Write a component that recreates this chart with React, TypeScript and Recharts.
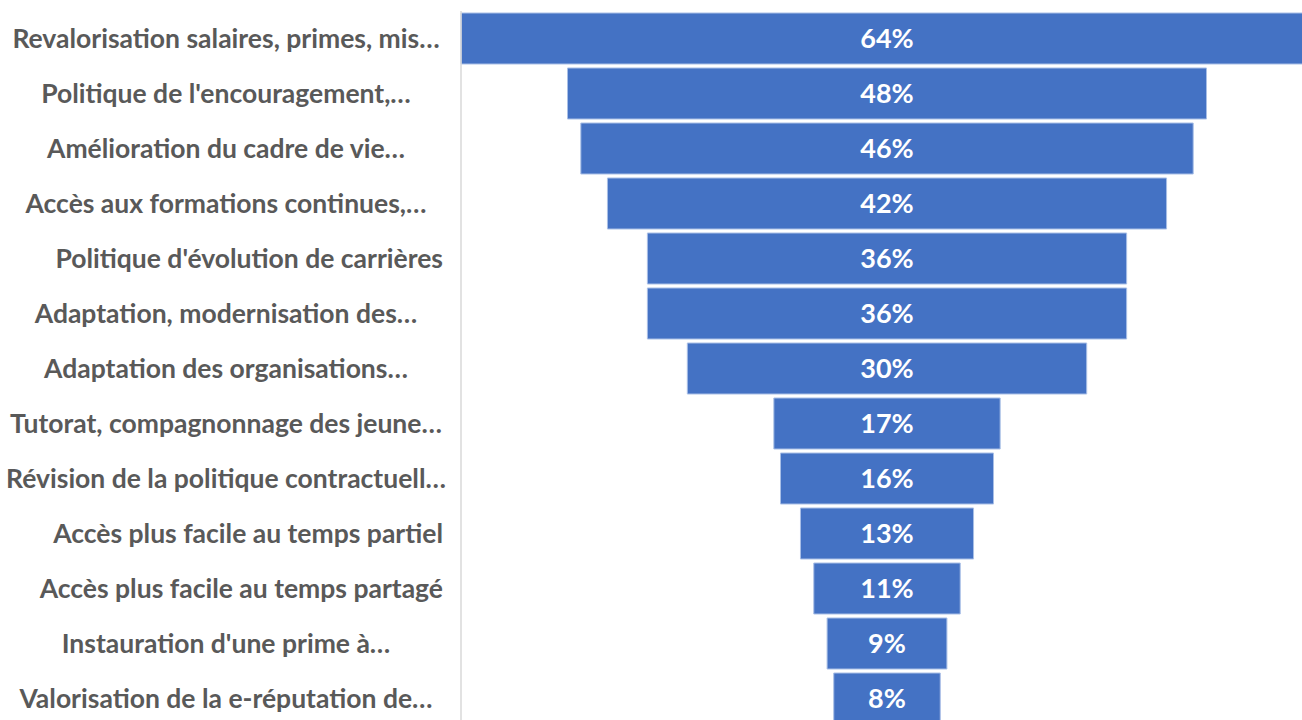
import React from 'react';
import { BarChart, Bar, XAxis, YAxis, LabelList } from 'recharts';

const categories: string[] = [
  'Revalorisation salaires, primes, mis…',
  "Politique de l'encouragement,…",
  'Amélioration du cadre de vie…',
  'Accès aux formations continues,…',
  "Politique d'évolution de carrières",
  'Adaptation, modernisation des…',
  'Adaptation des organisations…',
  'Tutorat, compagnonnage des jeune…',
  'Révision de la politique contractuell…',
  'Accès plus facile au temps partiel',
  'Accès plus facile au temps partagé',
  "Instauration d'une prime à…",
  'Valorisation de la e-réputation de…',
];

const values: number[] = [64, 48, 46, 42, 36, 36, 30, 17, 16, 13, 11, 9, 8];

const maxValue = Math.max(...values);

const data = categories.map((name, i) => ({
  name,
  value: values[i],
  offset: (maxValue - values[i]) / 2,
}));

const FONT = 'Lato, "Open Sans", sans-serif';

const Tick = (props: any) => {
  const { y, payload } = props;
  const label: string = payload.value;
  const truncated = label.endsWith('…');
  return (
    <text
      x={truncated ? 226 : 443}
      y={y}
      dy={9}
      textAnchor={truncated ? 'middle' : 'end'}
      fill="#595959"
      fontFamily={FONT}
      fontWeight={700}
      fontSize={26.5}
    >
      {label}
    </text>
  );
};

export default function App() {
  return (
    <div style={{ position: 'absolute', left: 0, top: 0, width: 1302, height: 720, overflow: 'hidden', background: '#fff' }}>
      <BarChart
        width={1313}
        height={726}
        data={data}
        layout="vertical"
        margin={{ top: 11, right: 0, bottom: 0, left: 0 }}
      >
        <XAxis type="number" domain={[0, maxValue]} hide />
        <YAxis
          type="category"
          dataKey="name"
          width={461}
          axisLine={{ stroke: '#d9d9d9', strokeWidth: 1.5 }}
          tickLine={false}
          tick={<Tick />}
          interval={0}
        />
        <Bar dataKey="offset" stackId="a" fill="transparent" isAnimationActive={false} barSize={51} />
        <Bar dataKey="value" stackId="a" fill="#4472C4" stroke="#a9bfe6" strokeWidth={1} isAnimationActive={false} barSize={51}>
          <LabelList
            dataKey="value"
            position="center"
            formatter={(v: any) => `${v}%`}
            fill="#ffffff"
            fontFamily={FONT}
            fontWeight={700}
            fontSize={27}
          />
        </Bar>
      </BarChart>
    </div>
  );
}
